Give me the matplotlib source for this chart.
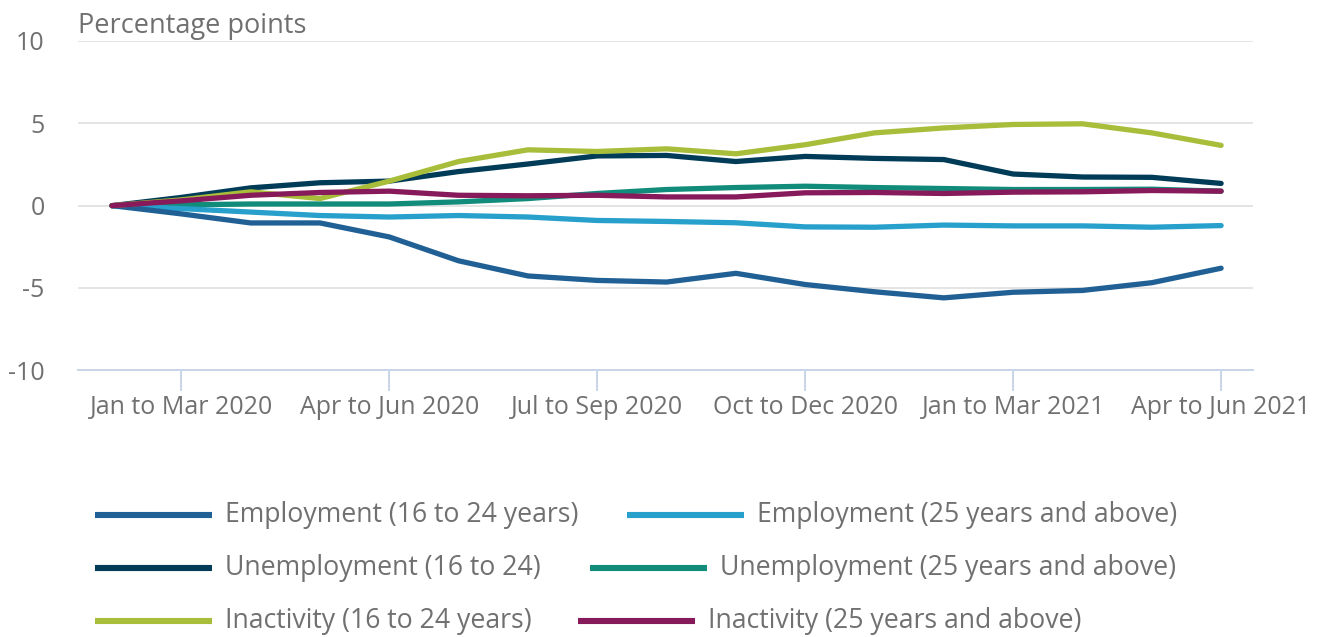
import matplotlib.pyplot as plt
from matplotlib.lines import Line2D

plt.rcParams["font.family"] = ["Open Sans", "DejaVu Sans"]

periods = ["Dec to Feb 2020", "Jan to Mar 2020", "Feb to Apr 2020", "Mar to May 2020",
           "Apr to Jun 2020", "May to Jul 2020", "Jun to Aug 2020", "Jul to Sep 2020",
           "Aug to Oct 2020", "Sep to Nov 2020", "Oct to Dec 2020", "Nov to Jan 2021",
           "Dec to Feb 2021", "Jan to Mar 2021", "Feb to Apr 2021", "Mar to May 2021",
           "Apr to Jun 2021"]
tick_labels = ["Jan to Mar 2020", "Apr to Jun 2020", "Jul to Sep 2020",
               "Oct to Dec 2020", "Jan to Mar 2021", "Apr to Jun 2021"]

emp_young = [0, -0.5, -1.05, -1.05, -1.9, -3.35, -4.27, -4.54, -4.64, -4.11, -4.79,
             -5.23, -5.6, -5.26, -5.15, -4.68, -3.8]
emp_old = [0, -0.18, -0.39, -0.6, -0.69, -0.6, -0.69, -0.9, -0.96, -1.04, -1.29,
           -1.31, -1.18, -1.23, -1.23, -1.31, -1.21]
unemp_young = [0, 0.5, 1.08, 1.39, 1.49, 2.07, 2.53, 3.02, 3.05, 2.68, 2.99,
               2.87, 2.8, 1.92, 1.74, 1.72, 1.35]
unemp_old = [0, 0.05, 0.1, 0.1, 0.1, 0.23, 0.43, 0.74, 0.98, 1.1, 1.18,
             1.1, 1.04, 0.98, 0.98, 1.0, 0.88]
inact_young = [0, 0.35, 0.84, 0.43, 1.49, 2.68, 3.39, 3.29, 3.45, 3.15, 3.7,
               4.42, 4.72, 4.93, 4.97, 4.42, 3.66]
inact_old = [0, 0.29, 0.63, 0.8, 0.88, 0.63, 0.6, 0.63, 0.53, 0.53, 0.78,
             0.8, 0.74, 0.82, 0.84, 0.92, 0.88]

series = [
    ("Employment (16 to 24 years)", emp_young, "#206095"),
    ("Employment (25 years and above)", emp_old, "#27a0cc"),
    ("Unemployment (16 to 24)", unemp_young, "#003c57"),
    ("Unemployment (25 years and above)", unemp_old, "#118c7b"),
    ("Inactivity (16 to 24 years)", inact_young, "#a8bd3a"),
    ("Inactivity (25 years and above)", inact_old, "#871a5b"),
]
draw_order = [3, 1, 0, 2, 4, 5]

grey = "#707070"
W, H = 1317, 637
fig = plt.figure(figsize=(W / 100, H / 100), dpi=100)
ax = fig.add_axes([78 / W, 1 - 370.3 / H, (1253 - 78) / W, (370.3 - 41) / H])

x = list(range(len(periods)))
for k in draw_order:
    name, vals, col = series[k]
    ax.plot(x, vals, color=col, lw=3.8, solid_capstyle="round", solid_joinstyle="round",
            zorder=3)

ax.set_xlim(-0.49, 16.46)
ax.set_ylim(-10, 10)
ax.set_yticks([-10, -5, 0, 5, 10])
ax.set_yticklabels(["-10", "-5", "0", "5", "10"])
ax.set_xticks([periods.index(t) for t in tick_labels])
ax.set_xticklabels(tick_labels)
ax.grid(axis="y", color="#e4e4e4", lw=1.4, zorder=0)
ax.set_axisbelow(True)
for s in ["top", "right", "left"]:
    ax.spines[s].set_visible(False)
ax.spines["bottom"].set_color("#c8d5ea")
ax.spines["bottom"].set_linewidth(1.4)
ax.spines["bottom"].set_zorder(1)
ax.tick_params(axis="x", colors="#c8d5ea", length=15, width=1.4, labelcolor=grey,
               labelsize=18, pad=3)
ax.tick_params(axis="y", length=0, labelcolor=grey, labelsize=18, pad=24)

fig.text(78 / W, 1 - 26 / H, "Percentage points", color=grey, fontsize=19.5,
         ha="left", va="center")

# legend, drawn by hand to follow the centred rows of the original
rows_y = [515, 568, 621]
col1_x = [95, 95, 95]
col2_x = [627, 590, 578]
for r in range(3):
    for c, lx in enumerate([col1_x[r], col2_x[r]]):
        name, vals, col = series[r * 2 + c]
        yy = 1 - rows_y[r] / H
        fig.add_artist(Line2D([lx / W, (lx + 117) / W], [yy, yy], color=col, lw=4.4,
                              solid_capstyle="butt", transform=fig.transFigure))
        fig.text((lx + 130) / W, yy, name, color=grey, fontsize=19.2, ha="left",
                 va="center")

fig.savefig("out.png", dpi=100)
